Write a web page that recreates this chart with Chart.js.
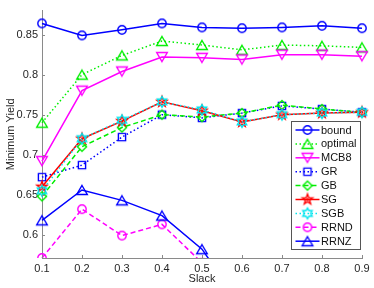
<!DOCTYPE html>
<html>
<head>
<meta charset="utf-8">
<script src="https://cdn.jsdelivr.net/npm/chart.js@4/dist/chart.umd.min.js"></script>
<style>
  body { margin: 0; background: #fff; }
</style>
</head>
<body>
<canvas id="chart" width="374" height="288"></canvas>
<script>
// data
var slack = [0.1, 0.2, 0.3, 0.4, 0.5, 0.6, 0.7, 0.8, 0.9];
var bound = [0.864, 0.849, 0.856, 0.864, 0.859, 0.858, 0.859, 0.861, 0.858];
var optimal = [0.740, 0.800, 0.824, 0.842, 0.837, 0.831, 0.837, 0.836, 0.834];
var mcb8 = [0.692, 0.780, 0.804, 0.822, 0.821, 0.819, 0.825, 0.825, 0.823];
var gr = [0.672, 0.687, 0.722, 0.750, 0.746, 0.752, 0.761, 0.757, 0.753];
var gb = [0.648, 0.710, 0.734, 0.750, 0.747, 0.752, 0.762, 0.757, 0.753];
var sg = [0.660, 0.720, 0.742, 0.766, 0.755, 0.741, 0.750, 0.752, 0.753];
var sgb = [0.655, 0.720, 0.743, 0.766, 0.756, 0.741, 0.750, 0.752, 0.753];
var rrnd = [0.571, 0.632, 0.599, 0.613, 0.565];
var rrnz = [0.618, 0.656, 0.643, 0.624, 0.582, 0.51];

var xTicks = [0.1, 0.2, 0.3, 0.4, 0.5, 0.6, 0.7, 0.8, 0.9];
var yTicks = [0.6, 0.65, 0.7, 0.75, 0.8, 0.85];

var names = ["bound", "optimal", "MCB8", "GR", "GB", "SG", "SGB", "RRND", "RRNZ"];
var values = [bound, optimal, mcb8, gr, gb, sg, sgb, rrnd, rrnz];
var colors = ["#0000ff", "#00ee00", "#ff00ff", "#0000ff", "#00ee00", "#ff0000", "#00e5ee", "#ff00ff", "#0000ff"];
var shapes = ["circle", "up", "down", "square", "diamond", "pent", "hex", "circle", "up"];
var dashes = [[], [1.5, 2.5], [], [1.5, 2.5], [5, 3], [], [1.5, 2.5], [5, 3], []];

// marker outlines, matlab style (not filled)
function shapePath(g, s) {
  g.beginPath();
  if (s == "circle") {
    g.arc(0, 0, 4.2, 0, Math.PI * 2);
  } else if (s == "up" || s == "down") {
    var k = s == "up" ? 1 : -1;
    g.moveTo(0, -4.5 * k);
    g.lineTo(5.3, 4.5 * k);
    g.lineTo(-5.3, 4.5 * k);
    g.closePath();
  } else if (s == "square") {
    g.rect(-3.6, -3.6, 7.2, 7.2);
  } else if (s == "diamond") {
    g.moveTo(0, -4.6); g.lineTo(4.6, 0); g.lineTo(0, 4.6); g.lineTo(-4.6, 0);
    g.closePath();
  } else {
    var n = s == "pent" ? 5 : 6;
    var R = 5.4, r = s == "pent" ? 2.2 : 3.1;
    for (var i = 0; i < n * 2; i++) {
      var a = -Math.PI / 2 + i * Math.PI / n;
      var rr = i % 2 ? r : R;
      if (i == 0) g.moveTo(rr * Math.cos(a), rr * Math.sin(a));
      else g.lineTo(rr * Math.cos(a), rr * Math.sin(a));
    }
    g.closePath();
  }
}

function markerImg(s, color) {
  var c = document.createElement("canvas");
  c.width = 16; c.height = 16;
  var g = c.getContext("2d");
  g.translate(8, 8);
  g.strokeStyle = color;
  g.lineWidth = 1.4;
  shapePath(g, s);
  g.stroke();
  if (s == "pent") {
    g.fillStyle = color;
    g.fillRect(-1, -1, 2, 2);
  }
  return c;
}

var markers = names.map(function (n, i) { return markerImg(shapes[i], colors[i]); });

var datasets = names.map(function (n, i) {
  var d = {
    label: n,
    data: values[i].map(function (v, j) { return { x: slack[j], y: v }; }),
    borderColor: colors[i],
    borderWidth: 1.5,
    borderDash: dashes[i],
    pointStyle: markers[i],
    pointRadius: 5,
    fill: false,
    tension: 0,
    order: names.length - i
  };
  if (n == "RRND" || n == "RRNZ") {
    d.clip = { left: false, top: false, right: false, bottom: 0 };
  } else {
    d.clip = false;
  }
  return d;
});

// inward tick marks like matlab
var innerTicks = {
  id: "innerTicks",
  afterDraw: function (chart) {
    var ctx = chart.ctx, a = chart.chartArea;
    var xs = chart.scales.x, ys = chart.scales.y;
    ctx.save();
    ctx.strokeStyle = "#8a8a8a";
    ctx.lineWidth = 1;
    ctx.beginPath();
    xTicks.forEach(function (t) {
      var px = Math.round(xs.getPixelForValue(t)) + 0.5;
      ctx.moveTo(px, a.bottom);
      ctx.lineTo(px, a.bottom - 3);
    });
    yTicks.forEach(function (t) {
      var py = Math.round(ys.getPixelForValue(t)) + 0.5;
      ctx.moveTo(a.left, py);
      ctx.lineTo(a.left + 3, py);
    });
    ctx.stroke();
    ctx.restore();
  }
};

// boxed legend in the lower right corner of the axes
var legendBox = {
  id: "legendBox",
  afterDraw: function (chart) {
    var ctx = chart.ctx, a = chart.chartArea;
    var w = 69, rowH = 13.9, h = 128;
    var x0 = Math.round(a.right - 2 - w) + 0.5;
    var y0 = Math.round(a.bottom - 9 - h) + 0.5;
    ctx.save();
    ctx.fillStyle = "#fff";
    ctx.fillRect(x0, y0, w, h);
    ctx.strokeStyle = "#555";
    ctx.lineWidth = 1;
    ctx.strokeRect(x0, y0, w, h);
    ctx.font = "11px 'Liberation Sans', Arial, sans-serif";
    ctx.textBaseline = "middle";
    ctx.fillStyle = "#111";
    names.forEach(function (n, i) {
      var cy = y0 + 8.5 + i * rowH;
      ctx.strokeStyle = colors[i];
      ctx.lineWidth = 1.5;
      ctx.setLineDash(dashes[i]);
      ctx.beginPath();
      ctx.moveTo(x0 + 4, cy);
      ctx.lineTo(x0 + 28, cy);
      ctx.stroke();
      ctx.setLineDash([]);
      ctx.drawImage(markers[i], x0 + 16 - 8, cy - 8);
      ctx.fillText(n, x0 + 29.5, cy + 0.5);
    });
    ctx.restore();
  }
};

Chart.defaults.font.family = "'Liberation Sans', Arial, sans-serif";
Chart.defaults.font.size = 11;
Chart.defaults.color = "#262626";

new Chart(document.getElementById("chart"), {
  type: "line",
  data: { datasets: datasets },
  options: {
    responsive: false,
    animation: false,
    layout: { padding: { top: 0, right: 12, bottom: 0, left: 0 } },
    plugins: {
      legend: { display: false },
      tooltip: { enabled: false }
    },
    scales: {
      x: {
        type: "linear",
        min: 0.1,
        max: 0.9,
        afterBuildTicks: function (s) { s.ticks = xTicks.map(function (v) { return { value: v }; }); },
        afterFit: function (s) { s.height = 30; },
        ticks: {
          padding: 4,
          maxRotation: 0,
          callback: function (v) { return String(+v.toFixed(2)); }
        },
        grid: { display: true, drawOnChartArea: false, drawTicks: false },
        border: { color: "#8a8a8a", width: 1 },
        title: { display: true, text: "Slack", padding: { top: 0, bottom: 2 } }
      },
      y: {
        type: "linear",
        min: 0.571,
        max: 0.88,
        afterBuildTicks: function (s) { s.ticks = yTicks.map(function (v) { return { value: v }; }); },
        afterFit: function (s) { s.width = 42; },
        ticks: {
          padding: 4,
          callback: function (v) { return String(+v.toFixed(2)); }
        },
        grid: { display: true, drawOnChartArea: false, drawTicks: false },
        border: { color: "#8a8a8a", width: 1 },
        title: { display: true, text: "Minimum Yield", padding: { top: 4, bottom: 4 } }
      }
    }
  },
  plugins: [innerTicks, legendBox]
});
</script>
</body>
</html>
